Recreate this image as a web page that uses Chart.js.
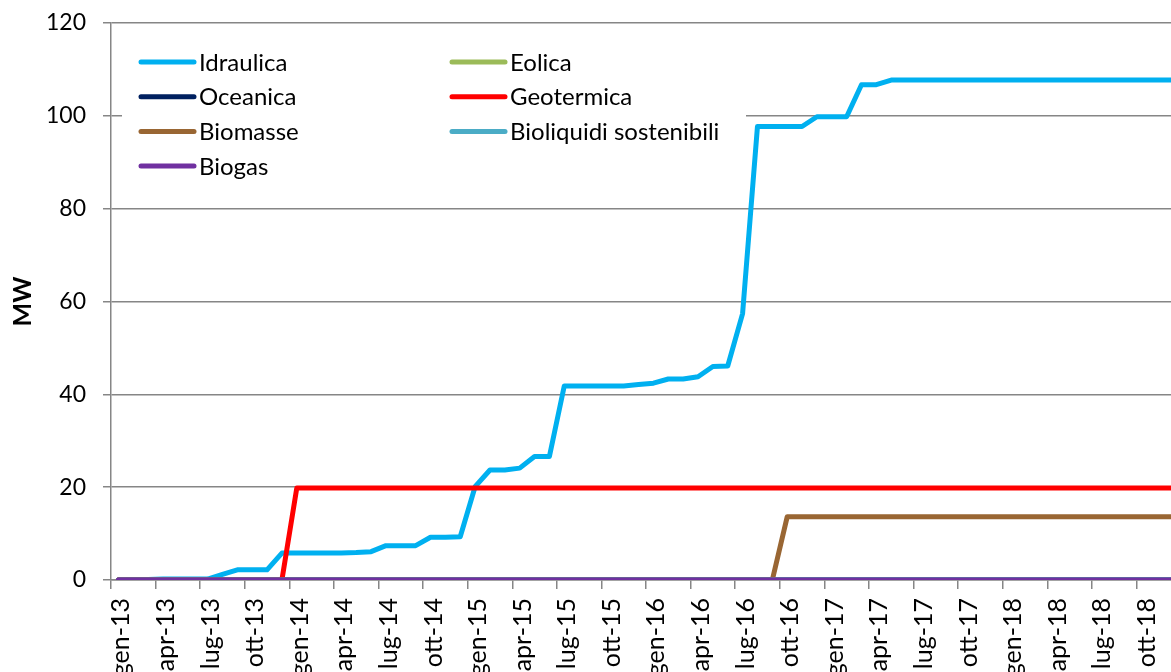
<!DOCTYPE html>
<html>
<head>
<meta charset="utf-8">
<script src="https://cdn.jsdelivr.net/npm/chart.js@4.4.1/dist/chart.umd.min.js"></script>
<style>
  html, body { margin: 0; padding: 0; overflow: hidden; background: #fff; }
</style>
</head>
<body>
<canvas id="graficoFer" width="1181" height="672"></canvas>
<script>
// mesi gen-13 ... dic-18
const mesi = [
    'gen-13','feb-13','mar-13','apr-13','mag-13','giu-13','lug-13','ago-13','set-13','ott-13','nov-13','dic-13',
    'gen-14','feb-14','mar-14','apr-14','mag-14','giu-14','lug-14','ago-14','set-14','ott-14','nov-14','dic-14',
    'gen-15','feb-15','mar-15','apr-15','mag-15','giu-15','lug-15','ago-15','set-15','ott-15','nov-15','dic-15',
    'gen-16','feb-16','mar-16','apr-16','mag-16','giu-16','lug-16','ago-16','set-16','ott-16','nov-16','dic-16',
    'gen-17','feb-17','mar-17','apr-17','mag-17','giu-17','lug-17','ago-17','set-17','ott-17','nov-17','dic-17',
    'gen-18','feb-18','mar-18','apr-18','mag-18','giu-18','lug-18','ago-18','set-18','ott-18','nov-18','dic-18'
];

// potenza cumulata (MW)
const idraulica = [
    0, 0.1, 0.1, 0.2, 0.2, 0.2, 0.2, 1.2, 2.2, 2.2, 2.2, 5.8,
    5.8, 5.8, 5.8, 5.8, 5.9, 6.1, 7.4, 7.4, 7.4, 9.2, 9.2, 9.3,
    20.1, 23.7, 23.7, 24.1, 26.6, 26.6, 41.8, 41.8, 41.8, 41.8, 41.8, 42.1,
    42.4, 43.3, 43.3, 43.8, 46.0, 46.1, 57.4, 97.7, 97.7, 97.7, 97.7, 99.8,
    99.8, 99.8, 106.7, 106.7, 107.7, 107.7, 107.7, 107.7, 107.7, 107.7, 107.7, 107.7,
    107.7, 107.7, 107.7, 107.7, 107.7, 107.7, 107.7, 107.7, 107.7, 107.7, 107.7, 107.7
];
const eolica = [
    0,0,0,0,0,0,0,0,0,0,0,0, 0,0,0,0,0,0,0,0,0,0,0,0, 0,0,0,0,0,0,0,0,0,0,0,0,
    0,0,0,0,0,0,0,0,0,0,0,0, 0,0,0,0,0,0,0,0,0,0,0,0, 0,0,0,0,0,0,0,0,0,0,0,0
];
const oceanica = [
    0,0,0,0,0,0,0,0,0,0,0,0, 0,0,0,0,0,0,0,0,0,0,0,0, 0,0,0,0,0,0,0,0,0,0,0,0,
    0,0,0,0,0,0,0,0,0,0,0,0, 0,0,0,0,0,0,0,0,0,0,0,0, 0,0,0,0,0,0,0,0,0,0,0,0
];
const geotermica = [
    0, 0, 0, 0, 0, 0, 0, 0, 0, 0, 0, 0,
    19.8, 19.8, 19.8, 19.8, 19.8, 19.8, 19.8, 19.8, 19.8, 19.8, 19.8, 19.8,
    19.8, 19.8, 19.8, 19.8, 19.8, 19.8, 19.8, 19.8, 19.8, 19.8, 19.8, 19.8,
    19.8, 19.8, 19.8, 19.8, 19.8, 19.8, 19.8, 19.8, 19.8, 19.8, 19.8, 19.8,
    19.8, 19.8, 19.8, 19.8, 19.8, 19.8, 19.8, 19.8, 19.8, 19.8, 19.8, 19.8,
    19.8, 19.8, 19.8, 19.8, 19.8, 19.8, 19.8, 19.8, 19.8, 19.8, 19.8, 19.8
];
const biomasse = [
    0, 0, 0, 0, 0, 0, 0, 0, 0, 0, 0, 0,
    0, 0, 0, 0, 0, 0, 0, 0, 0, 0, 0, 0,
    0, 0, 0, 0, 0, 0, 0, 0, 0, 0, 0, 0,
    0, 0, 0, 0, 0, 0, 0, 0, 0, 13.6, 13.6, 13.6,
    13.6, 13.6, 13.6, 13.6, 13.6, 13.6, 13.6, 13.6, 13.6, 13.6, 13.6, 13.6,
    13.6, 13.6, 13.6, 13.6, 13.6, 13.6, 13.6, 13.6, 13.6, 13.6, 13.6, 13.6
];
const bioliquidi = [
    0,0,0,0,0,0,0,0,0,0,0,0, 0,0,0,0,0,0,0,0,0,0,0,0, 0,0,0,0,0,0,0,0,0,0,0,0,
    0,0,0,0,0,0,0,0,0,0,0,0, 0,0,0,0,0,0,0,0,0,0,0,0, 0,0,0,0,0,0,0,0,0,0,0,0
];
const biogas = [
    0,0,0,0,0,0,0,0,0,0,0,0, 0,0,0,0,0,0,0,0,0,0,0,0, 0,0,0,0,0,0,0,0,0,0,0,0,
    0,0,0,0,0,0,0,0,0,0,0,0, 0,0,0,0,0,0,0,0,0,0,0,0, 0,0,0,0,0,0,0,0,0,0,0,0
];

const GRIGIO = '#868686';
const FONT = 'Lato';

// legenda su due colonne, come in Excel
const legendaExcel = {
    id: 'legendaExcel',
    beforeDatasetsDraw(chart) {
        const ctx = chart.ctx;
        ctx.save();
        ctx.fillStyle = '#fff';
        ctx.fillRect(122, 40, 624, 150);
        ctx.restore();
    },
    afterDraw(chart) {
        const ctx = chart.ctx;
        ctx.save();
        ctx.font = '24px ' + FONT;
        ctx.textBaseline = 'middle';
        chart.data.datasets.forEach((ds, i) => {
            const x = i % 2 ? 452 : 141;
            const y = 62 + Math.floor(i / 2) * 34.7;
            ctx.strokeStyle = ds.borderColor;
            ctx.lineWidth = 5;
            ctx.lineCap = 'round';
            ctx.beginPath();
            ctx.moveTo(x, y);
            ctx.lineTo(x + 53, y);
            ctx.stroke();
            ctx.fillStyle = '#000';
            ctx.fillText(ds.label, x + 58, y + 1);
        });
        ctx.restore();
    }
};

new Chart(document.getElementById('graficoFer'), {
    type: 'line',
    data: {
        labels: mesi,
        datasets: [
            { label: 'Idraulica', data: idraulica, borderColor: '#00B0F0', order: 6 },
            { label: 'Eolica', data: eolica, borderColor: '#9BBB59', order: 5 },
            { label: 'Oceanica', data: oceanica, borderColor: '#002060', order: 4 },
            { label: 'Geotermica', data: geotermica, borderColor: '#FF0000', order: 3 },
            { label: 'Biomasse', data: biomasse, borderColor: '#996633', order: 2 },
            { label: 'Bioliquidi sostenibili', data: bioliquidi, borderColor: '#4BACC6', order: 1 },
            { label: 'Biogas', data: biogas, borderColor: '#7030A0', order: 0 }
        ]
    },
    options: {
        responsive: false,
        animation: false,
        layout: { padding: { top: 23, right: 0, bottom: 0, left: 0 } },
        elements: {
            point: { radius: 0 },
            line: { borderWidth: 5, tension: 0, borderCapStyle: 'round', borderJoinStyle: 'round' }
        },
        plugins: {
            legend: { display: false },
            tooltip: { enabled: false }
        },
        scales: {
            x: {
                offset: true,
                grid: {
                    offset: true,
                    drawOnChartArea: false,
                    tickLength: 9,
                    lineWidth: 1.5,
                    color: ctx => ctx.index % 3 === 0 ? GRIGIO : 'rgba(0,0,0,0)'
                },
                border: { color: GRIGIO, width: 1.5 },
                ticks: {
                    autoSkip: false,
                    minRotation: 90,
                    maxRotation: 90,
                    padding: 9,
                    labelOffset: 3,
                    color: '#000',
                    font: { family: FONT, size: 25 },
                    callback: (v, i) => i % 3 === 0 ? mesi[i] : ''
                },
                afterFit: s => { s.height = 92; s.paddingLeft = 0; s.paddingRight = 0; }
            },
            y: {
                min: 0,
                max: 120,
                grid: { color: GRIGIO, tickLength: 8, lineWidth: 1.5 },
                border: { color: GRIGIO, width: 1.5 },
                ticks: {
                    stepSize: 20,
                    padding: 17,
                    color: '#000',
                    font: { family: FONT, size: 23 }
                },
                title: {
                    display: true,
                    text: 'MW',
                    color: '#000',
                    font: { family: FONT, size: 25, weight: 'bold' },
                    padding: { top: 8, bottom: 0 }
                },
                afterFit: s => { s.width = 111; s.paddingTop = 0; s.paddingBottom = 0; }
            }
        }
    },
    plugins: [legendaExcel]
});
</script>
</body>
</html>
